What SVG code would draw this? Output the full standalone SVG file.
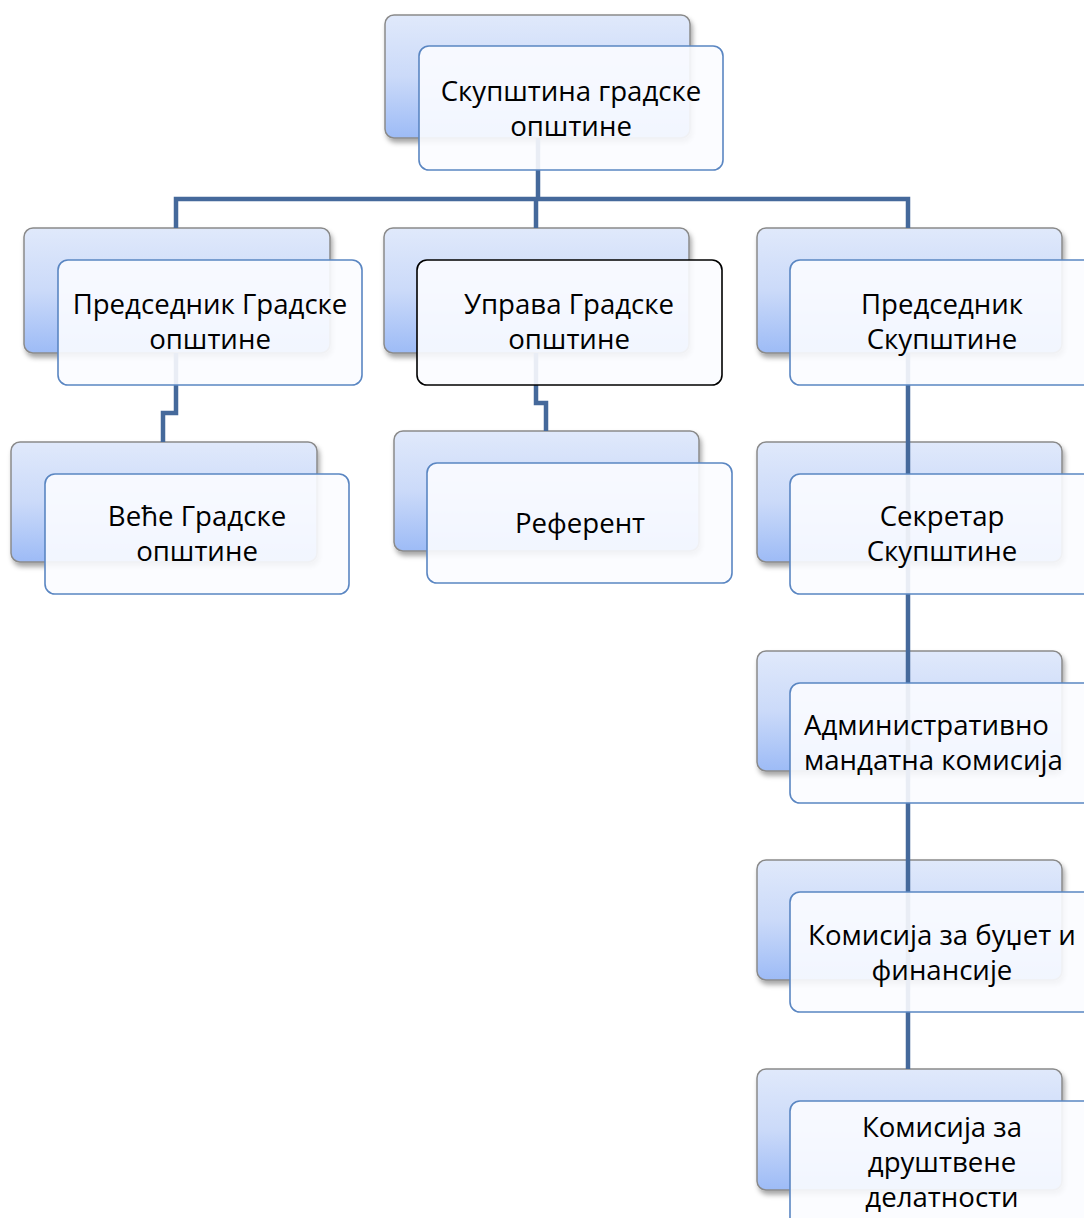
<svg xmlns="http://www.w3.org/2000/svg" width="1084" height="1218" viewBox="0 0 1084 1218">
<defs>
<linearGradient id="bg" x1="0" y1="0" x2="0" y2="1">
<stop offset="0" stop-color="#e0e9fb"/>
<stop offset="0.5" stop-color="#cbdaf9"/>
<stop offset="1" stop-color="#9dbbf6"/>
</linearGradient>
<filter id="sh" x="-10%" y="-10%" width="125%" height="130%">
<feDropShadow dx="2" dy="4" stdDeviation="2.5" flood-color="#000" flood-opacity="0.35"/>
</filter>
</defs>
<style>
.back{fill:url(#bg);stroke:#8a8a8a;stroke-width:1.5;filter:url(#sh)}
.front{fill:#fbfcff;fill-opacity:0.9;stroke:#5a86c2;stroke-width:1.6}
.sel{stroke:#000}
.conn{fill:none;stroke:#45699b;stroke-width:4.5;stroke-linejoin:miter}
text{font-family:"Open Sans","Noto Sans",sans-serif;font-size:27.6px;fill:#000;text-anchor:middle}
.l{text-anchor:start}
</style>
<g id="backs">
<rect class="back" x="385" y="15" width="305" height="123" rx="9"/>
<rect class="back" x="24" y="228" width="306" height="125" rx="9"/>
<rect class="back" x="384" y="228" width="305" height="125" rx="9"/>
<rect class="back" x="757" y="228" width="305" height="125" rx="9"/>
<rect class="back" x="11" y="442" width="306" height="120" rx="9"/>
<rect class="back" x="394" y="431" width="305" height="120" rx="9"/>
<rect class="back" x="757" y="442" width="305" height="120" rx="9"/>
<rect class="back" x="757" y="651" width="305" height="120" rx="9"/>
<rect class="back" x="757" y="860" width="305" height="120" rx="9"/>
<rect class="back" x="757" y="1069" width="305" height="121" rx="9"/>
</g>
<g id="connectors">
<path class="conn" d="M538 138 V199 M176 228 V199 H908 V228 M536 199 V228"/>
<path class="conn" d="M176 353 V413 H163 V442"/>
<path class="conn" d="M536 353 V403 H546 V431"/>
<path class="conn" d="M908 353 V1069"/>
</g>
<g id="n1"><rect class="front" x="419" y="46" width="304" height="124" rx="10"/><text x="571" y="101">Скупштина градске</text><text x="571" y="136">општине</text></g>
<g id="n2"><rect class="front" x="58" y="260" width="304" height="125" rx="10"/><text x="210" y="314">Председник Градске</text><text x="210" y="349">општине</text></g>
<g id="n3"><rect class="front sel" x="417" y="260" width="305" height="125" rx="10"/><text x="569" y="314">Управа Градске</text><text x="569" y="349">општине</text></g>
<g id="n4"><rect class="front" x="790" y="260" width="310" height="125" rx="10"/><text x="942" y="314">Председник</text><text x="942" y="349">Скупштине</text></g>
<g id="n5"><rect class="front" x="45" y="474" width="304" height="120" rx="10"/><text x="197" y="526">Веће Градске</text><text x="197" y="561">општине</text></g>
<g id="n6"><rect class="front" x="427" y="463" width="305" height="120" rx="10"/><text x="580" y="533">Референт</text></g>
<g id="n7"><rect class="front" x="790" y="474" width="310" height="120" rx="10"/><text x="942" y="526">Секретар</text><text x="942" y="561">Скупштине</text></g>
<g id="n8"><rect class="front" x="790" y="683" width="310" height="120" rx="10"/><text class="l" x="804" y="735">Административно</text><text class="l" x="804" y="770">мандатна комисија</text></g>
<g id="n9"><rect class="front" x="790" y="892" width="310" height="120" rx="10"/><text x="942" y="945">Комисија за буџет и</text><text x="942" y="980">финансије</text></g>
<g id="n10"><rect class="front" x="790" y="1101" width="310" height="130" rx="10"/><text x="942" y="1137">Комисија за</text><text x="942" y="1172">друштвене</text><text x="942" y="1207">делатности</text></g>
</svg>
